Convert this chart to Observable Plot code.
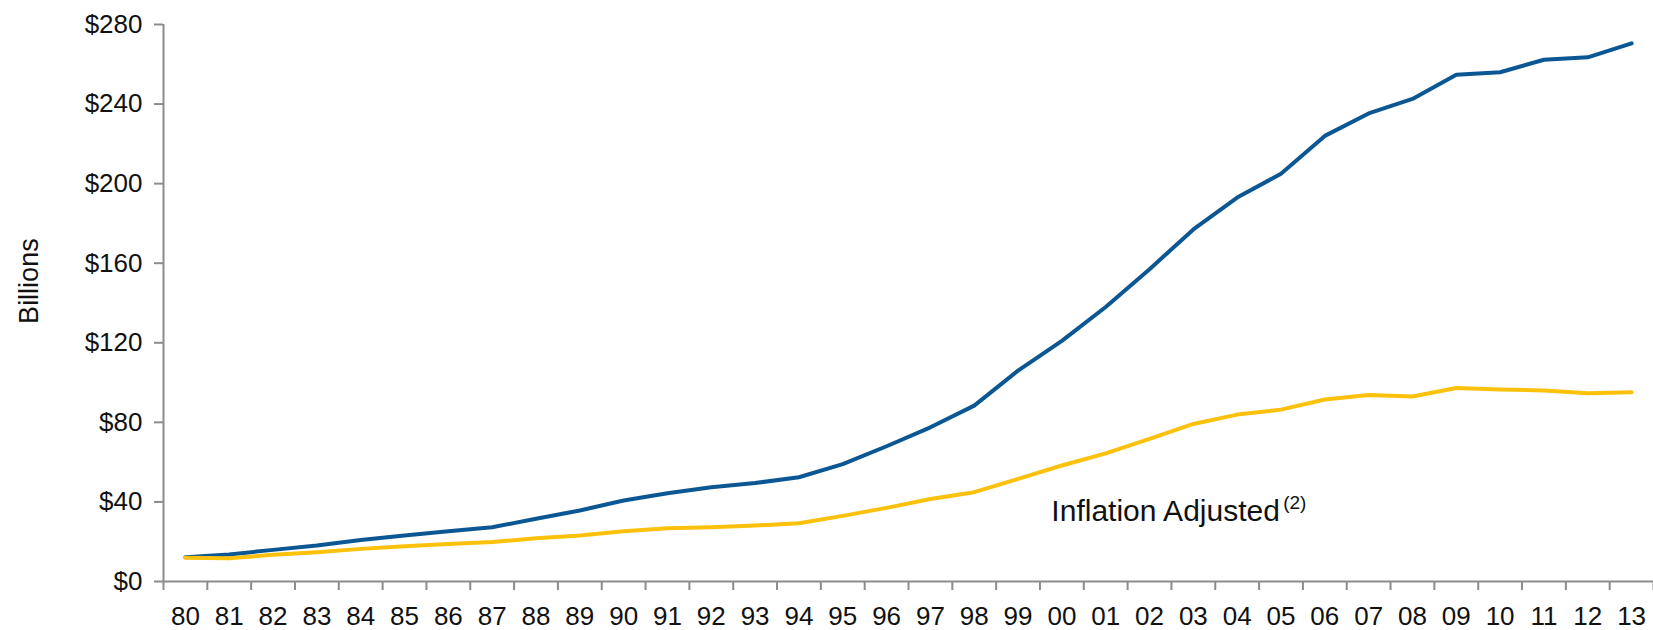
<!DOCTYPE html>
<html>
<head>
<meta charset="utf-8">
<script src="https://cdn.jsdelivr.net/npm/d3@7"></script>
<script src="https://cdn.jsdelivr.net/npm/@observablehq/plot@0.6"></script>
<style>
  html, body { margin: 0; padding: 0; background: #fff; }
  #chart svg { display: block; }
</style>
</head>
<body>
<div id="chart"></div>
<script>
const years = ["80","81","82","83","84","85","86","87","88","89","90","91","92","93","94","95","96","97","98","99","00","01","02","03","04","05","06","07","08","09","10","11","12","13"];
const nominal = [12.2,13.6,15.9,18.1,20.9,23.1,25.3,27.3,31.5,35.7,40.7,44.4,47.4,49.5,52.4,59,68,77.5,88.4,106,121,138,157,177,193,205,224,235.3,242.6,254.8,256,262.3,263.5,270.5];
const adjusted = [12,11.7,13.4,14.7,16.4,17.7,18.9,19.8,21.8,23.1,25.3,26.8,27.3,28.1,29.3,33,37,41.5,44.9,51.6,58.3,64.4,71.7,79.2,83.9,86.4,91.5,93.8,93,97.3,96.5,96,94.6,95.1];
const yTicks = [0,40,80,120,160,200,240,280];
const note = "Inflation Adjusted";
const noteSup = "(2)";
const yLabel = "Billions";

const rows = years.map((y, i) => ({i, year: y, nominal: nominal[i], adjusted: adjusted[i]}));
const boundaries = d3.range(-0.5, years.length, 1);
const axisColor = "#8c8c8c";
const font = "Liberation Sans, Arial, sans-serif";

const chart = Plot.plot({
  width: 1653,
  height: 630,
  marginLeft: 163,
  marginRight: 0,
  marginTop: 24,
  marginBottom: 49,
  style: {fontFamily: font, color: "#111", background: "#fff"},
  x: {domain: [-0.5, years.length - 0.5]},
  y: {domain: [0, 280]},
  marks: [
    Plot.axisY({ticks: yTicks, tickFormat: d => "$" + d, tickSize: 9, tickPadding: 12, fontSize: 26, stroke: axisColor, strokeWidth: 2, label: null}),
    Plot.axisX({ticks: d3.range(years.length), tickFormat: i => years[i], tickSize: 0, tickPadding: 25, fontSize: 26, label: null}),
    Plot.axisX({ticks: boundaries, tickFormat: () => "", tickSize: 9, stroke: axisColor, strokeWidth: 2, label: null}),
    Plot.ruleX([-0.5], {y1: 0, y2: 280, stroke: axisColor, strokeWidth: 2}),
    Plot.ruleY([0], {stroke: axisColor, strokeWidth: 2}),
    Plot.line(rows, {x: "i", y: "nominal", stroke: "#0b5793", strokeWidth: 4, strokeLinejoin: "round", strokeLinecap: "round"}),
    Plot.line(rows, {x: "i", y: "adjusted", stroke: "#fbc10c", strokeWidth: 4, strokeLinejoin: "round", strokeLinecap: "round"}),
    Plot.text([note], {x: 19.76, y: 35.4, text: d => d, textAnchor: "start", fontSize: 30, fill: "#111", fontFamily: font}),
    Plot.text([noteSup], {x: 25.05, y: 39.7, text: d => d, textAnchor: "start", fontSize: 19, fill: "#111", fontFamily: font}),
    Plot.text([yLabel], {frameAnchor: "left", y: 151, text: d => d, rotate: -90, textAnchor: "middle", dx: -134, fontSize: 27, fill: "#111", fontFamily: font})
  ]
});
document.getElementById("chart").append(chart);
</script>
</body>
</html>
